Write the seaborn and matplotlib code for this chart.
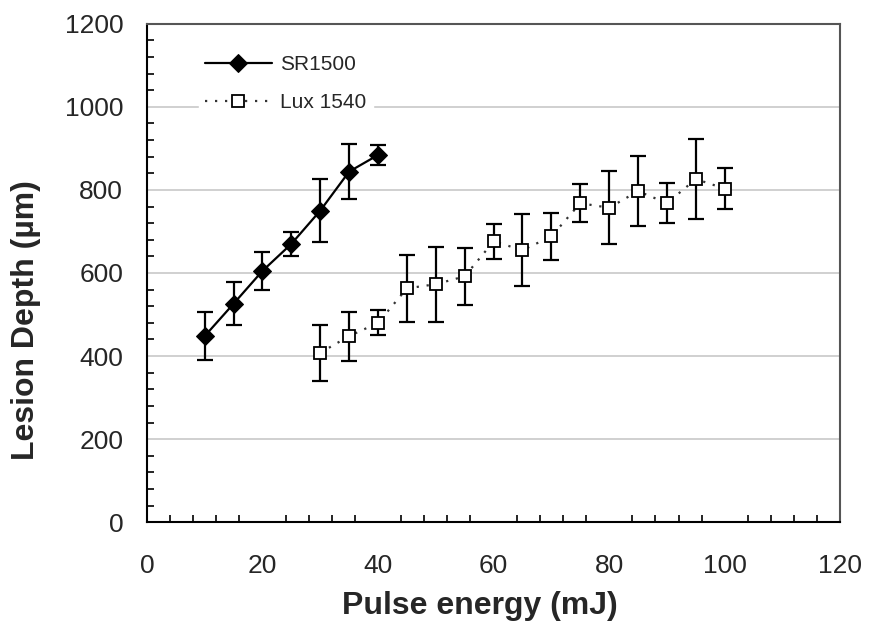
import matplotlib
matplotlib.use("Agg")
import matplotlib.pyplot as plt
from matplotlib.ticker import MultipleLocator
import pandas as pd
import seaborn as sns

# SR1500 series
sr_energy = [10, 15, 20, 25, 30, 35, 40]
sr_depth = [448, 526, 605, 670, 750, 844, 884]
sr_err = [58, 52, 45, 29, 76, 66, 24]

# Lux 1540 series
lux_energy = [30, 35, 40, 45, 50, 55, 60, 65, 70, 75, 80, 85, 90, 95, 100]
lux_depth = [408, 448, 480, 563, 573, 592, 676, 655, 688, 768, 757, 797, 768, 826, 803]
lux_err = [67, 59, 30, 81, 90, 69, 42, 86, 56, 46, 88, 84, 48, 96, 50]

sns.set_style("white")
plt.rcParams["font.family"] = ["Liberation Sans", "DejaVu Sans"]

fig = plt.figure(figsize=(8.69, 6.24), dpi=100)
ax = fig.add_axes([0.169, 0.163, 0.798, 0.799])

ax.yaxis.grid(True, color="#c8c8c8", linewidth=1.2)
ax.set_axisbelow(True)

sr = pd.DataFrame({"energy": sr_energy, "depth": sr_depth})
lux = pd.DataFrame({"energy": lux_energy, "depth": lux_depth})

ax.errorbar(sr_energy, sr_depth, yerr=sr_err, fmt="none", ecolor="black",
            elinewidth=1.6, capsize=5.5, capthick=1.6, zorder=2)
ax.errorbar(lux_energy, lux_depth, yerr=lux_err, fmt="none", ecolor="black",
            elinewidth=1.6, capsize=5.5, capthick=1.6, zorder=2)

sns.lineplot(data=sr, x="energy", y="depth", ax=ax, color="black",
             linewidth=1.6, marker="D", markersize=9, markeredgecolor="black",
             markerfacecolor="black", label="SR1500", zorder=3)
sns.lineplot(data=lux, x="energy", y="depth", ax=ax, color="#333333",
             linewidth=1.6, linestyle=(0, (1, 3.5)), marker="s", markersize=9,
             markeredgecolor="black", markerfacecolor="white",
             markeredgewidth=1.3, label="Lux 1540", zorder=3)

ax.set_xlim(0, 120)
ax.set_ylim(0, 1200)
ax.xaxis.set_major_locator(MultipleLocator(20))
ax.xaxis.set_minor_locator(MultipleLocator(4))
ax.yaxis.set_major_locator(MultipleLocator(200))
ax.yaxis.set_minor_locator(MultipleLocator(40))

ax.tick_params(axis="both", which="major", direction="inout", length=14,
               width=1.2, labelsize=19, color="black")
ax.tick_params(axis="x", which="major", pad=16)
ax.tick_params(axis="y", which="major", pad=10)
ax.tick_params(axis="x", which="minor", direction="in", length=5, width=1.2,
               color="black", bottom=True)
ax.tick_params(axis="y", which="minor", direction="in", length=5, width=1.2,
               color="black", left=True)

for side in ["left", "bottom"]:
    ax.spines[side].set_color("black")
    ax.spines[side].set_linewidth(1.5)
for side in ["top", "right"]:
    ax.spines[side].set_color("#555555")
    ax.spines[side].set_linewidth(1.5)

ax.set_xlabel("Pulse energy (mJ)", fontsize=23, fontweight="bold")
ax.set_ylabel("Lesion Depth (\u00b5m)", fontsize=23, fontweight="bold")
ax.xaxis.set_label_coords(0.48, -0.138)
ax.yaxis.set_label_coords(-0.152, 0.405)

leg = ax.legend(loc="upper left", bbox_to_anchor=(0.06, 0.97), frameon=True,
                fontsize=15, handlelength=3.2, labelspacing=0.9,
                handletextpad=0.4, borderpad=0.3)
leg.get_frame().set_edgecolor("white")
leg.get_frame().set_facecolor("white")
leg.get_frame().set_alpha(1)

fig.savefig("out.png", dpi=100)
